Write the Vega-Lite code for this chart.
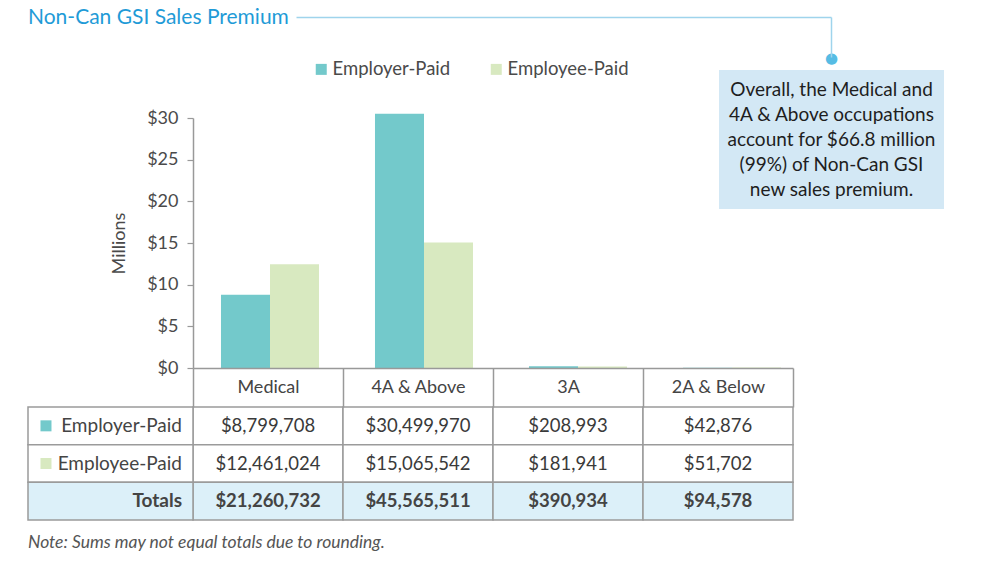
{
  "$schema": "https://vega.github.io/schema/vega-lite/v6.json",
  "width": 1000,
  "height": 584,
  "autosize": {"type": "none"},
  "padding": 0,
  "background": "#ffffff",
  "config": {
    "font": "Lato",
    "view": {"stroke": null},
    "axis": {"grid": false}
  },
  "datasets": {
    "premium": [
      {"category": "Medical", "payer": "Employer-Paid", "amount": 8799708},
      {"category": "Medical", "payer": "Employee-Paid", "amount": 12461024},
      {"category": "Medical", "payer": "Totals", "amount": 21260732},
      {"category": "4A & Above", "payer": "Employer-Paid", "amount": 30499970},
      {"category": "4A & Above", "payer": "Employee-Paid", "amount": 15065542},
      {"category": "4A & Above", "payer": "Totals", "amount": 45565511},
      {"category": "3A", "payer": "Employer-Paid", "amount": 208993},
      {"category": "3A", "payer": "Employee-Paid", "amount": 181941},
      {"category": "3A", "payer": "Totals", "amount": 390934},
      {"category": "2A & Below", "payer": "Employer-Paid", "amount": 42876},
      {"category": "2A & Below", "payer": "Employee-Paid", "amount": 51702},
      {"category": "2A & Below", "payer": "Totals", "amount": 94578}
    ],
    "callout": [
      {"box": "callout", "text": "Overall, the Medical and\n4A & Above occupations\naccount for $66.8 million\n(99%) of Non-Can GSI\nnew sales premium."}
    ],
    "heading": [
      {"k": "title", "text": "Non-Can GSI Sales Premium"}
    ],
    "note": [
      {"k": "note", "text": "Note: Sums may not equal totals due to rounding."}
    ]
  },
  "layer": [
    {
      "data": {"name": "premium"},
      "transform": [{"filter": "datum.payer !== 'Totals'"}],
      "mark": {"type": "bar"},
      "encoding": {
        "x": {
          "field": "category", "type": "nominal",
          "scale": {"domain": ["Medical", "4A & Above", "3A", "2A & Below"], "range": [193, 809], "paddingInner": 0, "paddingOuter": 0},
          "axis": null
        },
        "xOffset": {
          "field": "payer", "type": "nominal",
          "scale": {"domain": ["Employer-Paid", "Employee-Paid"], "paddingInner": 0, "paddingOuter": 0.571}
        },
        "y": {
          "field": "amount", "type": "quantitative",
          "scale": {"domain": [0, 30000000], "range": [368, 118], "nice": false},
          "axis": {
            "orient": "left", "offset": -193,
            "values": [0, 5000000, 10000000, 15000000, 20000000, 25000000, 30000000],
            "labelExpr": "'$' + (datum.value / 1000000)",
            "labelFontSize": 18, "labelColor": "#4a4a4a", "labelPadding": 9,
            "tickSize": 6, "tickColor": "#999999", "tickWidth": 1.2,
            "domainColor": "#999999", "domainWidth": 1.5,
            "title": "Millions", "titleFontSize": 18, "titleFontWeight": "normal",
            "titleColor": "#4a4a4a", "titlePadding": 18
          }
        },
        "color": {
          "field": "payer", "type": "nominal",
          "scale": {"domain": ["Employer-Paid", "Employee-Paid"], "range": ["#73c9cb", "#d8e9c0"]},
          "legend": {
            "orient": "none", "legendX": 312, "legendY": 60,
            "direction": "horizontal", "title": null,
            "symbolType": "square", "symbolSize": 121, "symbolStrokeWidth": 0,
            "labelFontSize": 18.5, "labelColor": "#4a4a4a", "labelOffset": 2,
            "columnPadding": 36
          }
        }
      }
    },
    {
      "data": {"name": "premium"},
      "encoding": {
        "x": {
          "field": "category", "type": "nominal",
          "scale": {"domain": ["Medical", "4A & Above", "3A", "2A & Below"], "range": [193, 793], "paddingInner": 0, "paddingOuter": 0},
          "axis": {
            "orient": "bottom", "offset": -216, "title": null,
            "domainColor": "#999999", "domainWidth": 1.5,
            "tickBand": "extent", "tickSize": 39, "tickColor": "#999999", "tickWidth": 1.5,
            "labelFontSize": 18, "labelColor": "#444444", "labelPadding": -19.5,
            "labelBaseline": "middle", "labelAngle": 0
          }
        },
        "y": {
          "field": "payer", "type": "nominal",
          "scale": {"domain": ["Employer-Paid", "Employee-Paid", "Totals"], "range": [407, 520], "paddingInner": 0, "paddingOuter": 0},
          "axis": null
        }
      },
      "layer": [
        {
          "mark": {"type": "rect", "stroke": "#9b9b9b", "strokeWidth": 1.5},
          "encoding": {
            "fill": {"condition": {"test": "datum.payer === 'Totals'", "value": "#dcf0f9"}, "value": "#ffffff"}
          }
        },
        {
          "transform": [{"filter": "datum.payer !== 'Totals'"}],
          "mark": {"type": "text", "fontSize": 18.5, "color": "#3a3a3a", "align": "center", "baseline": "middle"},
          "encoding": {"text": {"field": "amount", "type": "quantitative", "format": "$,.0f"}}
        },
        {
          "transform": [{"filter": "datum.payer === 'Totals'"}],
          "mark": {"type": "text", "fontSize": 18.5, "fontWeight": "bold", "color": "#444444", "align": "center", "baseline": "middle"},
          "encoding": {"text": {"field": "amount", "type": "quantitative", "format": "$,.0f"}}
        }
      ]
    },
    {
      "data": {"name": "premium"},
      "transform": [{"filter": "datum.category === 'Medical'"}],
      "encoding": {
        "y": {
          "field": "payer", "type": "nominal",
          "scale": {"domain": ["Employer-Paid", "Employee-Paid", "Totals"], "range": [407, 520], "paddingInner": 0, "paddingOuter": 0},
          "axis": null
        }
      },
      "layer": [
        {
          "mark": {"type": "rect", "stroke": "#9b9b9b", "strokeWidth": 1.5},
          "encoding": {
            "x": {"datum": "label", "type": "nominal", "scale": {"domain": ["label"], "range": [28, 193], "paddingInner": 0, "paddingOuter": 0}, "axis": null},
            "fill": {"condition": {"test": "datum.payer === 'Totals'", "value": "#dcf0f9"}, "value": "#ffffff"}
          }
        },
        {
          "transform": [{"filter": "datum.payer !== 'Totals'"}],
          "mark": {"type": "text", "fontSize": 19, "color": "#444444", "align": "right", "baseline": "middle", "dx": -11},
          "encoding": {
            "x": {"datum": "label", "type": "nominal", "bandPosition": 1, "scale": {"domain": ["label"], "range": [28, 193], "paddingInner": 0, "paddingOuter": 0}, "axis": null},
            "text": {"field": "payer"}
          }
        },
        {
          "transform": [{"filter": "datum.payer === 'Totals'"}],
          "mark": {"type": "text", "fontSize": 19, "fontWeight": "bold", "color": "#444444", "align": "right", "baseline": "middle", "dx": -11},
          "encoding": {
            "x": {"datum": "label", "type": "nominal", "bandPosition": 1, "scale": {"domain": ["label"], "range": [28, 193], "paddingInner": 0, "paddingOuter": 0}, "axis": null},
            "text": {"field": "payer"}
          }
        },
        {
          "transform": [{"filter": "datum.payer !== 'Totals'"}],
          "mark": {"type": "square", "size": 121, "opacity": 1},
          "encoding": {
            "x": {"datum": "label", "type": "nominal", "bandPosition": 0.109, "scale": {"domain": ["label"], "range": [28, 193], "paddingInner": 0, "paddingOuter": 0}, "axis": null},
            "color": {"field": "payer", "type": "nominal", "scale": {"domain": ["Employer-Paid", "Employee-Paid"], "range": ["#73c9cb", "#d8e9c0"]}, "legend": null}
          }
        }
      ]
    },
    {
      "data": {"name": "callout"},
      "encoding": {
        "x": {"field": "box", "type": "nominal", "scale": {"domain": ["callout"], "range": [719, 944], "paddingInner": 0, "paddingOuter": 0}, "axis": null},
        "y": {"field": "box", "type": "nominal", "scale": {"domain": ["callout"], "range": [70, 209], "paddingInner": 0, "paddingOuter": 0}, "axis": null}
      },
      "layer": [
        {"mark": {"type": "rect", "fill": "#d3e8f5"}},
        {
          "mark": {"type": "text", "align": "center", "baseline": "middle", "dy": -50, "lineBreak": "\n", "lineHeight": 25, "fontSize": 19, "color": "#1e1e1e"},
          "encoding": {"text": {"field": "text"}}
        }
      ]
    },
    {
      "data": {"values": []},
      "mark": {"type": "point", "opacity": 0},
      "encoding": {
        "x": {
          "field": "a", "type": "quantitative",
          "scale": {"domain": [0, 1], "range": [296, 831], "nice": false, "zero": false},
          "axis": {"orient": "top", "offset": -17, "domain": true, "domainColor": "#9fd4ec", "domainWidth": 1.5, "ticks": false, "labels": false, "grid": false, "title": null}
        },
        "y": {
          "field": "b", "type": "quantitative",
          "scale": {"domain": [0, 1], "range": [57, 17], "nice": false, "zero": false},
          "axis": {
            "orient": "right", "offset": -169, "domain": true, "domainColor": "#9fd4ec", "domainWidth": 1.5,
            "ticks": false, "grid": false, "title": null,
            "values": [0], "labelExpr": "'●'", "labelFont": "DejaVu Sans", "labelFontSize": 15,
            "labelColor": "#56bce4", "labelAlign": "center", "labelBaseline": "middle", "labelPadding": 0
          }
        }
      }
    },
    {
      "data": {"name": "heading"},
      "mark": {"type": "text", "align": "left", "baseline": "alphabetic", "fontSize": 21, "color": "#1f9bd7"},
      "encoding": {
        "x": {"field": "k", "type": "nominal", "scale": {"domain": ["title"], "range": [28, 28], "paddingInner": 0, "paddingOuter": 0}, "axis": null},
        "y": {"field": "k", "type": "nominal", "scale": {"domain": ["title"], "range": [24, 24], "paddingInner": 0, "paddingOuter": 0}, "axis": null},
        "text": {"field": "text"}
      }
    },
    {
      "data": {"name": "note"},
      "mark": {"type": "text", "align": "left", "baseline": "middle", "fontSize": 17.5, "fontStyle": "italic", "color": "#555555"},
      "encoding": {
        "x": {"field": "k", "type": "nominal", "scale": {"domain": ["note"], "range": [28, 28], "paddingInner": 0, "paddingOuter": 0}, "axis": null},
        "y": {"field": "k", "type": "nominal", "scale": {"domain": ["note"], "range": [543, 543], "paddingInner": 0, "paddingOuter": 0}, "axis": null},
        "text": {"field": "text"}
      }
    }
  ],
  "resolve": {"scale": {"x": "independent", "y": "independent", "color": "independent"}}
}
